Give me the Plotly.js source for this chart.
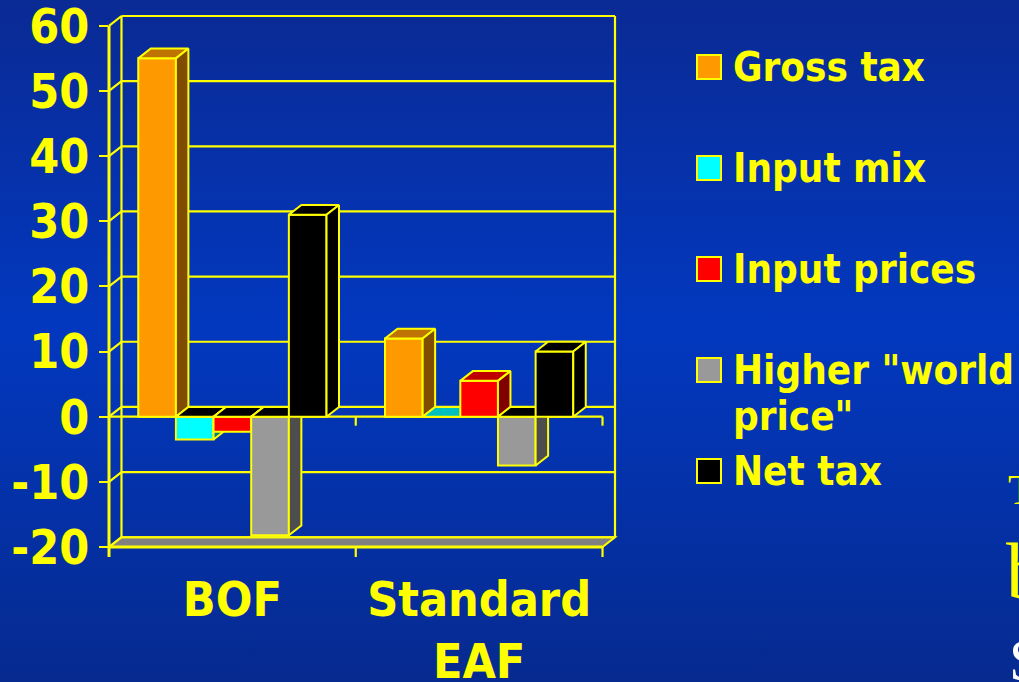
<!DOCTYPE html>
<html>
<head>
<meta charset="utf-8">
<script src="https://cdn.plot.ly/plotly-3.0.1.min.js"></script>
<style>
  html, body { margin: 0; padding: 0; }
  #chart {
    width: 1019px; height: 682px;
    background: linear-gradient(180deg, #0a2a94 0%, #0238bf 48%, #062a8f 100%);
  }
</style>
</head>
<body>
<div id="chart"></div>
<script>
// Tax components by steelmaking route
const categories = ['BOF', 'Standard<br>EAF'];
const seriesNames = ['Gross tax', 'Input mix', 'Input prices', 'Higher "world<br>price"', 'Net tax'];
const grossTax = [55, 12];
const inputMix = [-3.5, 0];
const inputPrices = [-2.3, 5.5];
const higherWorldPrice = [-18.2, -7.5];
const netTax = [31, 10];
const yTicks = [-20, -10, 0, 10, 20, 30, 40, 50, 60];
const yTickLabels = ['-20', '-10', '0', '10', '20', '30', '40', '50', '60'];

const seriesValues = [grossTax, inputMix, inputPrices, higherWorldPrice, netTax];
const frontColors = ['#FF9900', '#00FFFF', '#FF0000', '#999999', '#000000'];
const topColors   = ['#BF7300', '#00BFBF', '#BF0000', '#737373', '#000000'];
const sideColors  = ['#804D00', '#008080', '#800000', '#4D4D4D', '#000000'];
const EDGE = '#FFFF00';
const FONT = 'DejaVu Sans Condensed, DejaVu Sans, sans-serif';

// pseudo-3D depth (data units) and axis extents
const DX = 0.0506, DY = 1.5;
const X0 = -0.5, X1 = 1.5;
const Y0 = yTicks[0], Y1 = yTicks[yTicks.length - 1];
const xRange = [X0, X1 + DX];
const yRange = [Y0, Y1 + DY];

const W = 1019, H = 682;
const M = {l: 109, r: 404, t: 16, b: 135};
const plotW = W - M.l - M.r, plotH = H - M.t - M.b;

const px = x => (x - xRange[0]) / (xRange[1] - xRange[0]);
const py = y => (y - yRange[0]) / (yRange[1] - yRange[0]);
const pxPix = p => (p - M.l) / plotW;          // pixel -> paper x
const pyPix = p => (H - M.b - p) / plotH;      // pixel -> paper y
const dPy = d => d / plotH;                    // pixel length -> paper y length

const nS = seriesValues.length;
const barW = 0.1526;
const groupW = barW * nS;

const traces = [];
seriesValues.forEach((vals, i) => {
  const off = -groupW / 2 + i * barW;
  traces.push({
    type: 'bar', name: seriesNames[i], x: [0, 1], y: vals,
    width: barW, offset: off,
    marker: {color: frontColors[i], line: {color: EDGE, width: 2}},
    zorder: 2 * i, showlegend: false, hoverinfo: 'y'
  });
  vals.forEach((v, j) => {
    const xl = j + off, xr = xl + barW;
    const top = Math.max(v, 0);
    // upper face
    traces.push({
      type: 'scatter', mode: 'lines', x: [xl, xl + DX, xr + DX, xr, xl],
      y: [top, top + DY, top + DY, top, top], fill: 'toself',
      fillcolor: v >= 0 ? topColors[i] : '#000000',
      line: {color: EDGE, width: 2}, zorder: 2 * i + 1, showlegend: false, hoverinfo: 'skip'
    });
    // right-hand face
    traces.push({
      type: 'scatter', mode: 'lines', x: [xr, xr, xr + DX, xr + DX, xr],
      y: [0, v, v + DY, DY, 0], fill: 'toself', fillcolor: sideColors[i],
      line: {color: EDGE, width: 2}, zorder: 2 * i + 1, showlegend: false, hoverinfo: 'skip'
    });
  });
});

const line = (x0, y0, x1, y1, w) => ({
  type: 'line', xref: 'paper', yref: 'paper', layer: 'below',
  x0: x0, y0: y0, x1: x1, y1: y1, line: {color: EDGE, width: w || 2.2}
});

const shapes = [];
// floor
shapes.push({
  type: 'path', xref: 'paper', yref: 'paper', layer: 'below',
  path: `M${px(X0)},${py(Y0)} L${px(X0 + DX)},${py(Y0 + DY)} L${px(X1 + DX)},${py(Y0 + DY)} L${px(X1)},${py(Y0)} Z`,
  fillcolor: '#808080', line: {color: EDGE, width: 2}
});
// back wall grid and side wall diagonals
yTicks.forEach(v => {
  shapes.push(line(px(X0 + DX), py(v + DY), px(X1 + DX), py(v + DY)));
  shapes.push(line(px(X0), py(v), px(X0 + DX), py(v + DY)));
});
shapes.push(line(px(X0 + DX), py(Y0 + DY), px(X0 + DX), py(Y1 + DY)));
shapes.push(line(px(X1 + DX), py(Y0 + DY), px(X1 + DX), py(Y1 + DY)));
// front value axis
shapes.push(line(px(X0), py(Y0) - dPy(10), px(X0), py(Y1), 3));
// front baseline at zero and at the floor, with category ticks
shapes.push(line(px(X0), py(0), px(X1), py(0), 2.2));
shapes.push(line(px(X0), py(Y0), px(X1), py(Y0), 3));
[X0 + 1, X1].forEach(x => {
  shapes.push(line(px(x), py(0), px(x), py(0) - dPy(9)));
  shapes.push(line(px(x), py(Y0), px(x), py(Y0) - dPy(10)));
});

// legend: squares and labels
const annotations = [];
const legTop = 67, legStep = 101, legLine = 46, sq = 24;
seriesNames.forEach((name, i) => {
  const cy = legTop + i * legStep;
  shapes.push({
    type: 'rect', xref: 'paper', yref: 'paper',
    x0: pxPix(697), x1: pxPix(697 + sq), y0: pyPix(cy + sq / 2), y1: pyPix(cy - sq / 2),
    fillcolor: frontColors[i], line: {color: EDGE, width: 2}
  });
  name.split('<br>').forEach((part, k) => {
    annotations.push({
      xref: 'paper', yref: 'paper', x: pxPix(731), y: pyPix(cy + k * legLine),
      xanchor: 'left', yanchor: 'middle', showarrow: false, text: part,
      font: {family: FONT, size: 40, color: EDGE, weight: 'bold'}
    });
  });
});

// slide text running off the right edge
[['T', 1006, 490, 42, EDGE], ['b', 1004, 571, 80, EDGE], ['S', 1007, 660, 60, '#FFFFFF']].forEach(t => {
  annotations.push({
    xref: 'paper', yref: 'paper', x: pxPix(t[1]), y: pyPix(t[2]),
    xanchor: 'left', yanchor: 'middle', showarrow: false, text: t[0],
    font: {family: 'Liberation Serif, DejaVu Serif, serif', size: t[3], color: t[4]}
  });
});

const layout = {
  width: W, height: H, margin: M,
  paper_bgcolor: 'rgba(0,0,0,0)', plot_bgcolor: 'rgba(0,0,0,0)',
  barmode: 'overlay', showlegend: false,
  xaxis: {
    range: xRange, tickvals: [0, 1], ticktext: categories,
    showgrid: false, zeroline: false, showline: false, ticks: '',
    ticklabelstandoff: 20, ticklabeloverflow: 'allow',
    tickfont: {family: FONT, size: 48, color: EDGE, weight: 'bold'}
  },
  yaxis: {
    range: yRange, tickvals: yTicks, ticktext: yTickLabels,
    showgrid: false, zeroline: false, showline: false,
    ticks: 'outside', ticklen: 9, tickwidth: 2, tickcolor: EDGE,
    ticklabeloverflow: 'allow',
    tickfont: {family: FONT, size: 48, color: EDGE, weight: 'bold'}
  },
  shapes: shapes, annotations: annotations
};

Plotly.newPlot('chart', traces, layout, {displayModeBar: false, staticPlot: true});
</script>
</body>
</html>
